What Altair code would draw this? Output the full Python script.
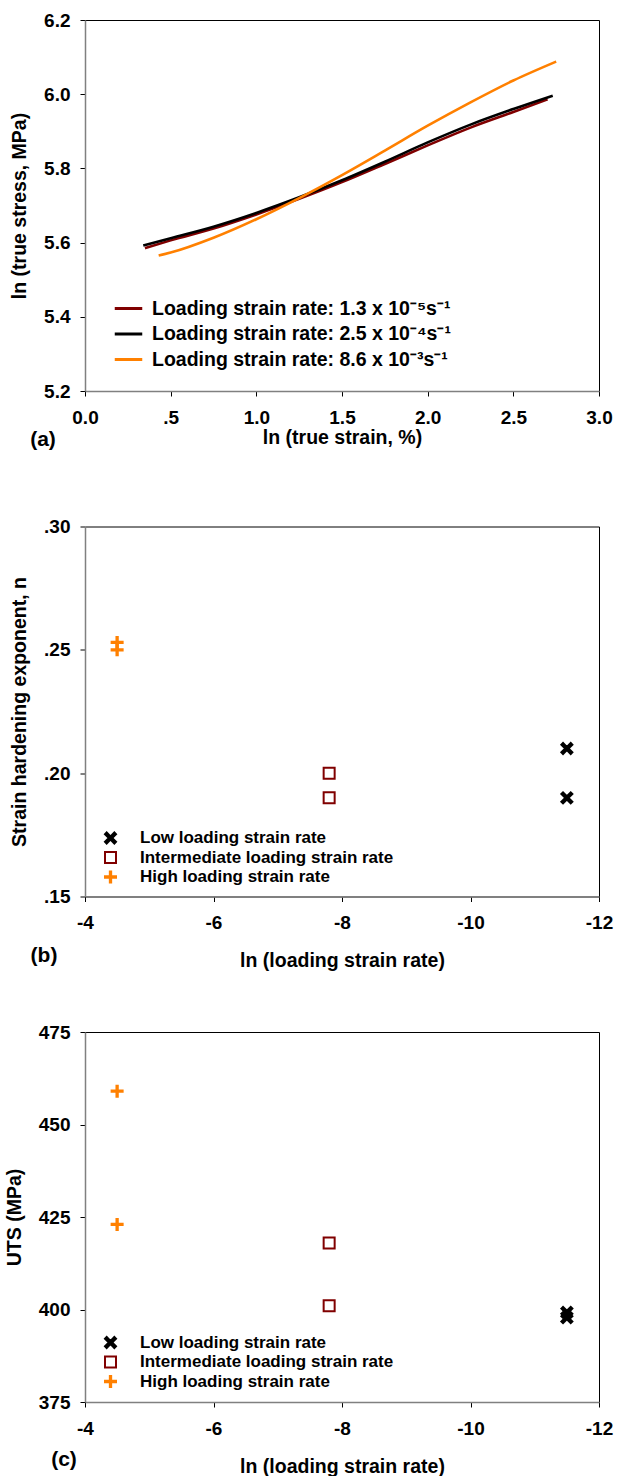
import altair as alt
import pandas as pd

FONT = "Liberation Sans"

# ---------------- Panel (a) data ----------------
rate_labels = [
    "Loading strain rate: 1.3 x 10⁻⁵s⁻¹",
    "Loading strain rate: 2.5 x 10⁻⁴s⁻¹",
    "Loading strain rate: 8.6 x 10⁻³s⁻¹",
]
rate_colors = ["#800000", "#000000", "#FF8000"]

strain_1 = [0.35, 0.50, 0.75, 1.00, 1.25, 1.50, 1.75, 2.00, 2.25, 2.50, 2.70]
stress_1 = [5.585, 5.606, 5.638, 5.676, 5.718, 5.763, 5.812, 5.862, 5.910, 5.952, 5.986]
strain_2 = [0.34, 0.50, 0.75, 1.00, 1.25, 1.50, 1.75, 2.00, 2.25, 2.50, 2.73]
stress_2 = [5.592, 5.612, 5.643, 5.680, 5.722, 5.768, 5.818, 5.870, 5.918, 5.960, 5.996]
strain_3 = [0.43, 0.50, 0.75, 1.00, 1.25, 1.50, 1.75, 2.00, 2.25, 2.50, 2.75]
stress_3 = [5.565, 5.573, 5.613, 5.663, 5.720, 5.782, 5.848, 5.915, 5.978, 6.037, 6.088]

# ---------------- Panels (b), (c) data ----------------
groups = ["Low loading strain rate", "Intermediate loading strain rate", "High loading strain rate"]
group_of_point = [groups[0], groups[0], groups[1], groups[1], groups[2], groups[2]]
ln_rate = [-11.5, -11.5, -7.8, -7.8, -4.5, -4.5]
n_values = [0.210, 0.190, 0.200, 0.190, 0.253, 0.250]
uts_values = [399.2, 397.8, 418.0, 401.0, 459.0, 423.0]

group_stroke = ["#000000", "#800000", "#FF8000"]
group_fill = ["#000000", "#FFFFFF", "#FF8000"]
X_PATH = "M-1,-0.7L-0.7,-1L0,-0.3L0.7,-1L1,-0.7L0.3,0L1,0.7L0.7,1L0,0.3L-0.7,1L-1,0.7L-0.3,0Z"
PLUS_PATH = "M-0.12,-1H0.12V-0.12H1V0.12H0.12V1H-0.12V0.12H-1V-0.12H-0.12Z"
group_shapes = [X_PATH, "square", PLUS_PATH]

rows_a = []
for lab, xs, ys in zip(rate_labels, [strain_1, strain_2, strain_3], [stress_1, stress_2, stress_3]):
    for x, y in zip(xs, ys):
        rows_a.append({"rate": lab, "strain": x, "stress": y})
df_a = pd.DataFrame(rows_a)

df_pts = pd.DataFrame({"group": group_of_point, "lnrate": ln_rate, "n": n_values, "uts": uts_values})

W = 514


def letter(txt, dx, dy):
    return alt.Chart(pd.DataFrame({"t": [txt]})).mark_text(
        font=FONT, fontSize=21, fontWeight="bold", align="center", baseline="middle"
    ).encode(x=alt.value(dx), y=alt.value(dy), text="t:N")


# ---------------- Panel (a) ----------------
lines = alt.Chart(df_a).mark_line(strokeWidth=2.6, interpolate="monotone").encode(
    x=alt.X("strain:Q", scale=alt.Scale(domain=[0, 3], nice=False),
            axis=alt.Axis(values=[0, 0.5, 1, 1.5, 2, 2.5, 3], title="ln (true strain, %)",
                          labelExpr="datum.value == 0.5 ? '.5' : format(datum.value, '.1f')",
                          titlePadding=1)),
    y=alt.Y("stress:Q", scale=alt.Scale(domain=[5.2, 6.2], nice=False),
            axis=alt.Axis(values=[5.2, 5.4, 5.6, 5.8, 6.0, 6.2], format=".1f",
                          title="ln (true stress, MPa)")),
    color=alt.Color("rate:N", scale=alt.Scale(domain=rate_labels, range=rate_colors),
                    legend=alt.Legend(orient="none", legendX=31, legendY=276, title=None,
                                      symbolType="M-1.25,0L1.25,0", symbolSize=484,
                                      symbolStrokeWidth=3, labelFontSize=19.5,
                                      labelFont=FONT, labelFontWeight="bold",
                                      labelLimit=500,
                                      rowPadding=3.5, labelOffset=11, padding=0)),
    detail="rate:N",
)
panel_a = alt.layer(lines, letter("(a)", -42, 420)).properties(width=W, height=371)


def scatter_panel(field, domain, values, label_expr, title, letter_txt, lx, ly, leg_y):
    pts = alt.Chart(df_pts).mark_point(strokeWidth=2, opacity=1).encode(
        x=alt.X("lnrate:Q", scale=alt.Scale(domain=[-12, -4], reverse=True, nice=False),
                axis=alt.Axis(values=[-4, -6, -8, -10, -12], labelExpr="'' + datum.value",
                              title="ln (loading strain rate)", titlePadding=19)),
        y=alt.Y(f"{field}:Q", scale=alt.Scale(domain=domain, nice=False),
                axis=alt.Axis(values=values, labelExpr=label_expr, title=title)),
        shape=alt.Shape("group:N", scale=alt.Scale(domain=groups, range=group_shapes), title=None,
                        legend=alt.Legend(orient="none", legendX=17, legendY=leg_y, title=None,
                                          symbolSize=121, symbolStrokeWidth=2,
                                          labelFontSize=17, labelFont=FONT,
                                          labelFontWeight="bold", labelOffset=21,
                                          labelLimit=500,
                                          rowPadding=0.5, padding=0)),
        stroke=alt.Stroke("group:N", scale=alt.Scale(domain=groups, range=group_stroke), title=None),
        fill=alt.Fill("group:N", scale=alt.Scale(domain=groups, range=group_fill), title=None),
        size=alt.value(121),
    )
    return alt.layer(pts, letter(letter_txt, lx, ly)).properties(width=W, height=370)


panel_b = scatter_panel("n", [0.15, 0.30], [0.15, 0.20, 0.25, 0.30],
                        "replace(format(datum.value, '.2f'), '0.', '.')",
                        "Strain hardening exponent, n", "(b)", -41, 429, 303)
panel_c = scatter_panel("uts", [375, 475], [375, 400, 425, 450, 475],
                        "'' + datum.value", "UTS (MPa)", "(c)", -21, 428, 302)

chart = alt.vconcat(panel_a, panel_b, panel_c, spacing=135.5, bounds="flush").resolve_scale(
    color="independent", shape="independent", stroke="independent", fill="independent",
    x="independent", y="independent"
).resolve_legend(
    color="independent", shape="independent", stroke="independent", fill="independent"
).properties(
    padding={"left": 3, "top": 10, "right": 0, "bottom": 0},
    background="white",
).configure_view(
    stroke="#000000", strokeWidth=1
).configure_axis(
    grid=False,
    domainColor="#808080", domainWidth=1.5,
    tickColor="#000000", tickSize=5, tickWidth=1,
    labelFont=FONT, labelFontSize=19, labelFontWeight="bold", labelColor="#000000",
    labelFlush=False, labelPadding=12,
    titleFont=FONT, titleFontSize=19.5, titleFontWeight="bold", titleColor="#000000",
    titlePadding=14,
).configure_axisY(
    labelPadding=10
).configure_legend(
    labelColor="#000000"
)

chart.save("out.html", embed_options={"renderer": "svg", "actions": False})
